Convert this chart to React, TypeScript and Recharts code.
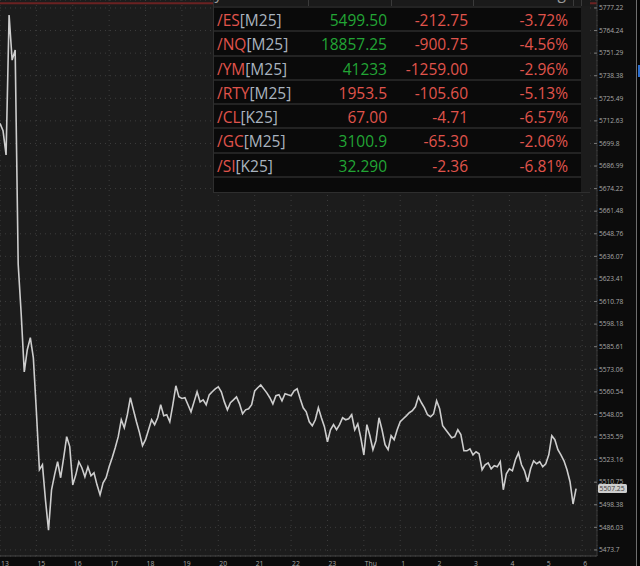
import { CartesianGrid, Line, LineChart, ReferenceLine, XAxis, YAxis } from "recharts";

// 5-minute closes, /ES session from 13:00 to ~06:00 (hour 14 halted)
const closes = [
  5711.2, 5707.1, 5693.3, 5773.2, 5747.3, 5753.1, 5631.6, 5603.5, 5571.6, 5583.9, 5590.6, 5579.4,
  5549.5, 5517.6, 5520.3, 5501.0, 5484.5, 5506.6, 5514.8, 5522.0, 5513.2, 5524.2, 5535.8, 5530.3,
  5509.3, 5514.8, 5522.0, 5518.7, 5513.7, 5519.2, 5514.3, 5515.9, 5509.3, 5503.8, 5510.4, 5513.2,
  5519.2, 5524.2, 5529.7, 5535.8, 5545.1, 5540.7, 5547.9, 5557.3, 5550.6, 5544.0, 5538.0, 5530.8,
  5534.1, 5539.6, 5545.1, 5542.4, 5546.2, 5553.4, 5547.3, 5547.9, 5544.0, 5553.4, 5563.9, 5557.8,
  5556.9, 5557.3, 5553.4, 5549.5, 5555.0, 5560.6, 5555.0, 5556.1, 5553.4, 5558.9, 5560.6, 5562.2,
  5563.3, 5560.6, 5555.0, 5550.6, 5554.5, 5556.1, 5557.8, 5553.9, 5548.4, 5550.6, 5551.2, 5553.4,
  5561.1, 5562.8, 5564.4, 5562.2, 5560.0, 5557.3, 5553.9, 5558.4, 5559.0, 5555.6, 5559.5, 5558.9,
  5558.4, 5561.1, 5562.2, 5556.7, 5551.7, 5549.5, 5544.0, 5541.8, 5545.1, 5551.7, 5546.2, 5541.3,
  5533.0, 5539.6, 5542.4, 5539.6, 5542.4, 5546.2, 5545.1, 5545.7, 5547.9, 5539.6, 5542.9, 5535.2,
  5525.8, 5542.4, 5536.3, 5528.6, 5533.6, 5546.2, 5539.6, 5531.4, 5528.6, 5536.3, 5534.1, 5539.6,
  5544.0, 5545.7, 5547.3, 5549.0, 5550.1, 5552.3, 5557.8, 5554.5, 5551.7, 5547.9, 5546.8, 5548.4,
  5555.6, 5551.2, 5541.8, 5539.6, 5537.4, 5535.2, 5535.8, 5539.6, 5536.9, 5528.0, 5528.0, 5529.1,
  5525.8, 5527.5, 5526.4, 5517.6, 5520.3, 5521.4, 5518.1, 5519.8, 5519.2, 5522.0, 5506.6, 5515.4,
  5518.1, 5517.0, 5523.1, 5526.9, 5520.3, 5517.0, 5511.0, 5518.1, 5522.5, 5520.9, 5522.0, 5519.2,
  5520.9, 5525.8, 5536.3, 5534.1, 5528.6, 5525.8, 5522.5, 5517.6, 5511.0, 5498.8, 5507.25,
];

const timeLabels = ["13", "15", "16", "17", "18", "19", "20", "21", "22", "23", "Thu", "1", "2", "3", "4", "5", "6"];
const barsPerHour = 12;

const priceTicks = [
  5777.22, 5764.24, 5751.29, 5738.38, 5725.49, 5712.63, 5699.8, 5686.99, 5674.22, 5661.48, 5648.76,
  5636.07, 5623.41, 5610.78, 5598.18, 5585.61, 5573.06, 5560.54, 5548.05, 5535.59, 5523.16, 5510.75,
  5498.38, 5486.03, 5473.7,
];
const lastPrice = 5507.25;
const alertLevel = 5780;

// watchlist
const symbols = ["/ES", "/NQ", "/YM", "/RTY", "/CL", "/GC", "/SI"];
const contracts = ["[M25]", "[M25]", "[M25]", "[M25]", "[K25]", "[M25]", "[K25]"];
const lasts = ["5499.50", "18857.25", "41233", "1953.5", "67.00", "3100.9", "32.290"];
const lastUp = [true, true, true, false, false, true, true];
const netChanges = ["-212.75", "-900.75", "-1259.00", "-105.60", "-4.71", "-65.30", "-2.36"];
const pctChanges = ["-3.72%", "-4.56%", "-2.96%", "-5.13%", "-6.57%", "-2.06%", "-6.81%"];

const rows = closes.map((close, bar) => ({ bar, close }));
const xTicks = timeLabels.map((_, k) => k * barsPerHour);

const RED = "#e0544c";
const GREEN = "#22a535";
const AXIS_FONT = "'Open Sans', sans-serif";

function TimeTick(props: any) {
  const { x, payload } = props;
  const label = timeLabels[Math.round(payload.value / barsPerHour)];
  return (
    <text x={Math.max(x + 1, 0)} y={566} fill="#a6a6a6" fontSize={6.8} fontFamily={AXIS_FONT} textAnchor="start">
      {label}
    </text>
  );
}

function PriceTick(props: any) {
  const { x, y, payload } = props;
  return (
    <g>
      <line x1={x - 3} x2={x} y1={y} y2={y} stroke="#7a7a7a" strokeWidth={1} />
      <text x={x + 2} y={y} dy={2.3} fill="#a8a8a8" fontSize={6.6} fontFamily={AXIS_FONT} textAnchor="start">
        {payload.value}
      </text>
    </g>
  );
}

function LastTag(props: any) {
  const vb = props.viewBox;
  if (!vb) return null;
  const x = vb.x + vb.width + 1;
  const y = vb.y;
  return (
    <g>
      <rect x={x} y={y - 4.5} width={29} height={9} rx={1.5} fill="#cdcdcd" />
      <text x={x + 1.5} y={y} dy={2.4} fill="#3c3c3c" fontSize={6.8} fontFamily={AXIS_FONT}>
        {lastPrice}
      </text>
    </g>
  );
}

function QuoteTable() {
  const rowH = 24.3;
  const cell = { position: "absolute" as const, top: 0, lineHeight: `${rowH}px` };
  return (
    <div
      style={{
        position: "absolute",
        left: 213,
        top: 0,
        width: 377,
        height: 193,
        background: "#0a0a0a",
        borderLeft: "1px solid #2e2e2e",
        borderBottom: "1px solid #2e2e2e",
        boxSizing: "border-box",
        overflow: "hidden",
        fontFamily: "'Open Sans', sans-serif",
        fontSize: 15.5,
      }}
    >
      <div style={{ position: "relative", height: 6, background: "#1a1a1a", overflow: "hidden" }}>
        {[94, 177, 259, 359, 367].map((d) => (
          <div key={d} style={{ position: "absolute", left: d, top: 0, width: 1, height: 6, background: "#3a3a3a" }} />
        ))}
        <span style={{ position: "absolute", left: -8, top: -17, color: "#9a9a9a", lineHeight: "20px" }}>Symbol</span>
        <span style={{ position: "absolute", right: 24, top: -17, color: "#9a9a9a", lineHeight: "20px" }}>% Chg</span>
      </div>
      {symbols.map((s, k) => (
        <div
          key={s}
          style={{
            position: "relative",
            height: rowH,
            borderTop: "2px solid #232323",
            boxSizing: "border-box",
          }}
        >
          <span style={{ ...cell, left: 3 }}>
            <span style={{ color: RED }}>{s}</span>
            <span style={{ color: "#a9b3bf" }}>{contracts[k]}</span>
          </span>
          <span style={{ ...cell, right: 203, color: lastUp[k] ? GREEN : RED }}>{lasts[k]}</span>
          <span style={{ ...cell, right: 122, color: RED }}>{netChanges[k]}</span>
          <span style={{ ...cell, right: 22, color: RED }}>{pctChanges[k]}</span>
        </div>
      ))}
      <div style={{ height: 20, borderTop: "2px solid #232323" }} />
      <div style={{ position: "absolute", left: 367, top: 6, width: 10, height: 187, background: "#1c1c1c" }} />
    </div>
  );
}

export default function App() {
  return (
    <div style={{ position: "relative", width: 640, height: 566, background: "#0c0c0c", overflow: "hidden" }}>
      <style>{"body{margin:0}"}</style>
      <div style={{ position: "absolute", left: 0, top: 0, width: 597, height: 556, background: "#1c1c1c" }} />
      <div style={{ position: "absolute", left: 0, top: 0 }}>
        <LineChart width={640} height={566} data={rows} margin={{ top: 0, right: 0, bottom: 0, left: 0 }}>
          <CartesianGrid stroke="#3d3d3d" strokeDasharray="1 4" />
          <XAxis
            dataKey="bar"
            type="number"
            domain={[0, 196.9]}
            ticks={xTicks}
            interval={0}
            allowDataOverflow
            height={10}
            tickSize={0}
            tickMargin={0}
            tickLine={false}
            axisLine={{ stroke: "#474747" }}
            tick={<TimeTick />}
          />
          <YAxis
            orientation="right"
            width={43}
            type="number"
            scale="log"
            domain={[5470.4, 5781.8]}
            ticks={priceTicks}
            interval={0}
            allowDataOverflow
            tickSize={0}
            tickMargin={0}
            tickLine={false}
            axisLine={{ stroke: "#3a3a3a" }}
            tick={<PriceTick />}
          />
          <ReferenceLine y={alertLevel} stroke="#6b2222" strokeWidth={2} />
          <Line
            dataKey="close"
            type="linear"
            stroke="#cdcdcd"
            strokeWidth={1.6}
            strokeLinejoin="miter"
            dot={false}
            activeDot={false}
            isAnimationActive={false}
          />
          <ReferenceLine y={lastPrice} stroke="none" label={<LastTag />} />
        </LineChart>
      </div>
      <QuoteTable />
      <div style={{ position: "absolute", left: 636, top: 0, width: 1, height: 566, background: "#6e6e6e" }} />
      <div style={{ position: "absolute", left: 637, top: 0, width: 3, height: 566, background: "#050505" }} />
      <div style={{ position: "absolute", left: 638, top: 65, width: 2, height: 12, background: "#2b6fd1" }} />
    </div>
  );
}
